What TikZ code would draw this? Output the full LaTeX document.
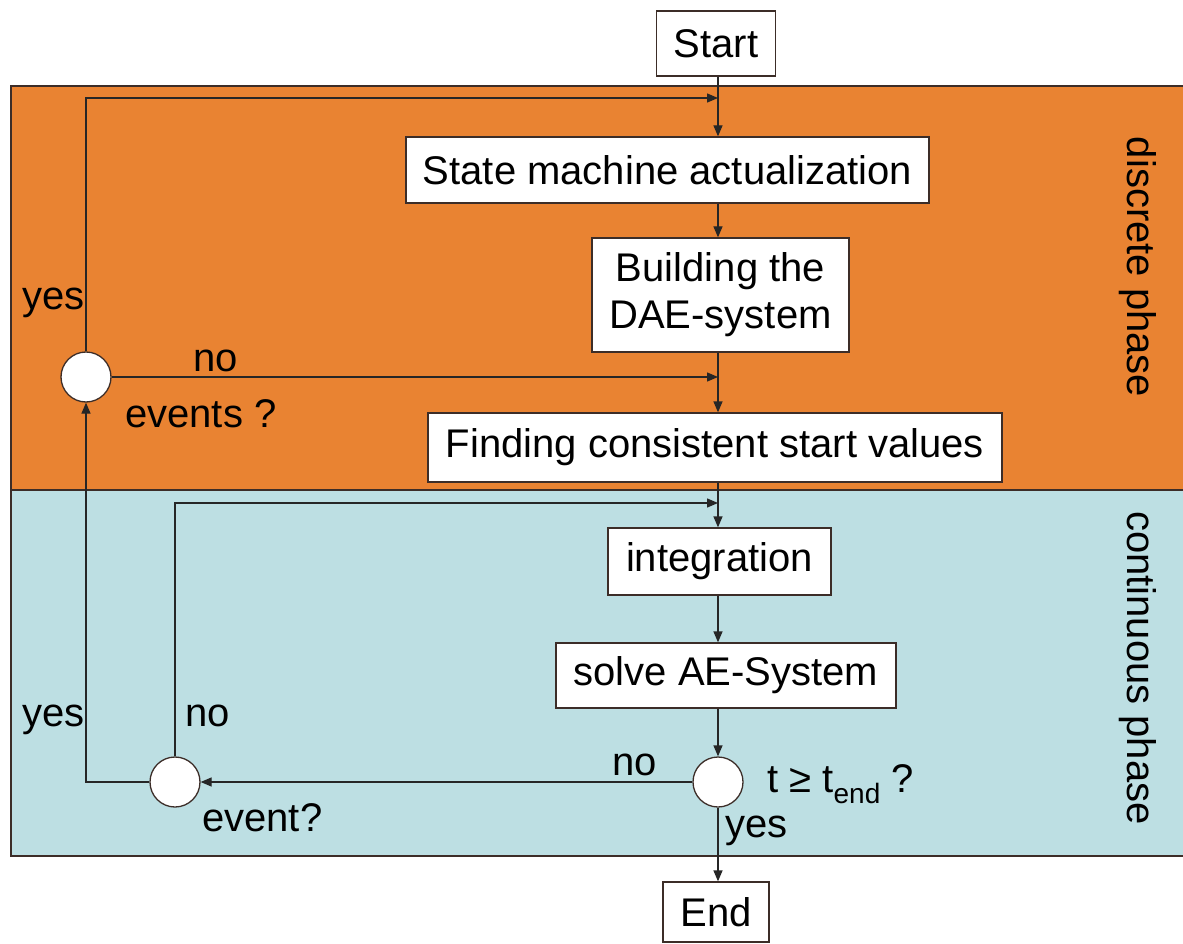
\documentclass[tikz,border=0pt]{standalone}
\usepackage{fontspec}
\setmainfont{Liberation Sans}
\usetikzlibrary{arrows.meta,calc}

\definecolor{discretebg}{RGB}{233,131,50}
\definecolor{continuousbg}{RGB}{189,223,227}
\definecolor{frameline}{RGB}{60,45,40}

\tikzset{
  every node/.style={font=\fontsize{40}{47}\selectfont, inner sep=0pt},
  procbox/.style={draw=frameline, line width=1.3pt, fill=white, align=center},
  decision/.style={circle, draw=frameline, line width=1.3pt, fill=white, minimum size=50pt},
  flow/.style={draw=black!85, line width=1.3pt},
  flowarrow/.style={flow, -{Triangle[length=11pt,width=9pt]}},
  lbl/.style={anchor=base west},
}

\begin{document}
\begin{tikzpicture}[x=1pt,y=-1pt]
  % canvas
  \fill[white] (0,0) rectangle (1183,944);
  \useasboundingbox (0,0) rectangle (1183,944);

  % phase bands
  \begin{scope}
    \clip (0,0) rectangle (1183,944);
    \filldraw[fill=discretebg, draw=frameline, line width=1.3pt] (11,86) rectangle (1195,490);
    \filldraw[fill=continuousbg, draw=frameline, line width=1.3pt] (11,490) rectangle (1195,856);
  \end{scope}

  \node[rotate=-90] (discr) at (1138,267) {discrete phase};
  \node[rotate=-90] (cont) at (1138,668) {continuous phase};

  % main column
  \coordinate (axis) at (718,0);

  \node[procbox, minimum width=119pt, minimum height=65pt] (start) at (716,43.5) {Start};
  \node[procbox, minimum width=523pt, minimum height=66pt] (state) at (667.5,170) {State machine actualization};
  \node[procbox, minimum width=257pt, minimum height=114pt] (build) at (720.5,295) {Building the\\DAE-system};
  \node[procbox, minimum width=574pt, minimum height=69pt] (find) at (715,447.5) {Finding consistent start values};
  \node[procbox, minimum width=223pt, minimum height=67pt] (integ) at (719.5,561.5) {integration};
  \node[procbox, minimum width=340pt, minimum height=65pt] (solve) at (726,675.5) {solve AE-System};
  \node[procbox, minimum width=106pt, minimum height=60pt] (end) at (716,912) {End};

  \node[decision] (events) at (86,377) {};
  \node[decision] (event) at (175,782) {};
  \node[decision] (tend) at (718,782) {};

  % junction points on the main column
  \coordinate (jtop) at (718,98);
  \coordinate (jno) at (718,377);
  \coordinate (jint) at (718,503);

  % straight flow down the column
  \draw[flowarrow] (start.south -| axis) -- (state.north -| axis);
  \draw[flowarrow] (state.south -| axis) -- (build.north -| axis);
  \draw[flowarrow] (build.south -| axis) -- (find.north -| axis);
  \draw[flowarrow] (find.south -| axis) -- (integ.north -| axis);
  \draw[flowarrow] (integ.south -| axis) -- (solve.north -| axis);
  \draw[flowarrow] (solve.south -| axis) -- (tend.north);
  \draw[flowarrow] (tend.south) -- (end.north -| axis);

  % loops and branches
  \draw[flowarrow] (events.north) -- (events.north |- jtop) -- (jtop);
  \draw[flowarrow] (events.east) -- (jno);
  \draw[flowarrow] (tend.west) -- (event.east);
  \draw[flowarrow] (event.west) -- (events.south |- event.west) -- (events.south);
  \draw[flowarrow] (event.north) -- (event.north |- jint) -- (jint);

  % branch labels
  \node[lbl] (yes1) at (22,309) {yes};
  \node[lbl] (no1) at (193,371) {no};
  \node[lbl] (q1) at (125,427) {events ?};
  \node[lbl] (yes2) at (22,726) {yes};
  \node[lbl] (no2) at (185,726) {no};
  \node[lbl] (q2) at (202,831) {event?};
  \node[lbl] (no3) at (612,775) {no};
  \node[lbl] (q3) at (767,792) {t ≥ t\textsubscript{end} ?};
  \node[lbl] (yes3) at (725,837) {yes};
\end{tikzpicture}
\end{document}
